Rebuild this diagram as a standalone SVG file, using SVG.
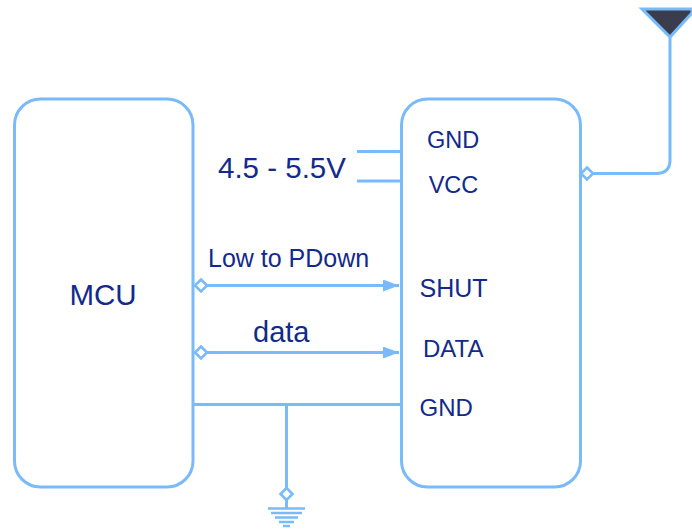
<svg xmlns="http://www.w3.org/2000/svg" width="692" height="531" viewBox="0 0 692 531">
<style>
.b{fill:#fff;stroke:#78bafa;stroke-width:3}
.c{fill:none;stroke:#78bafa;stroke-width:3}
.d{fill:#fff;stroke:#78bafa;stroke-width:2.6}
.g{fill:none;stroke:#78bafa;stroke-width:2.6}
text{font-family:"Liberation Sans",Arial,sans-serif;fill:#112a8c}
</style>
<defs><marker id="a" markerUnits="userSpaceOnUse" markerWidth="16" markerHeight="12" refX="16" refY="6" orient="auto"><path d="M0 0L16 6L0 12Z" fill="#78bafa"/></marker></defs>
<rect width="692" height="531" fill="#fff"/>
<g id="mcu"><rect class="b" x="14.500" y="99" width="178.500" height="388" rx="26"/><text x="103" y="305" font-size="29.500" text-anchor="middle">MCU</text></g>
<g id="module"><rect class="b" x="401.500" y="99" width="179" height="388" rx="26"/>
<text x="453" y="148" font-size="23.500" text-anchor="middle">GND</text>
<text x="453.500" y="193" font-size="23.500" text-anchor="middle">VCC</text>
<text x="419.500" y="297" font-size="25">SHUT</text>
<text x="423" y="357" font-size="24">DATA</text>
<text x="419.500" y="416" font-size="24">GND</text></g>
<g id="connectors">
<path class="c" d="M357 151.500H401M357 181H401M193 404.500H401M286.500 404.500V488"/>
<path class="c" d="M207 285.500H399" marker-end="url(#a)"/>
<path class="c" d="M207 352.500H399" marker-end="url(#a)"/>
<path class="c" d="M593 173.500H656Q670 173.500 670 160V38"/>
<path class="d" d="M201 279.500L207 285.500L201 291.500L195 285.500Z"/>
<path class="d" d="M201 346.500L207 352.500L201 358.500L195 352.500Z"/>
<path class="d" d="M587 167.500L593 173.500L587 179.500L581 173.500Z"/>
<path class="d" d="M286.500 488L292.500 494L286.500 500L280.500 494Z"/>
<path class="c" d="M286.500 500V508"/>
</g>
<g id="ground"><path class="g" d="M268 508.500H305M271 513H302M275 517.500H298M279 522H294M283 526H290"/></g>
<g id="antenna"><path d="M642 9H692V13L670 37Z" fill="#3a3d4d" stroke="#78bafa" stroke-width="3"/></g>
<g id="labels">
<text x="218" y="178" font-size="29.500">4.5 - 5.5V</text>
<text x="208" y="267" font-size="25">Low to PDown</text>
<text x="253" y="342" font-size="29">data</text>
</g>
</svg>
